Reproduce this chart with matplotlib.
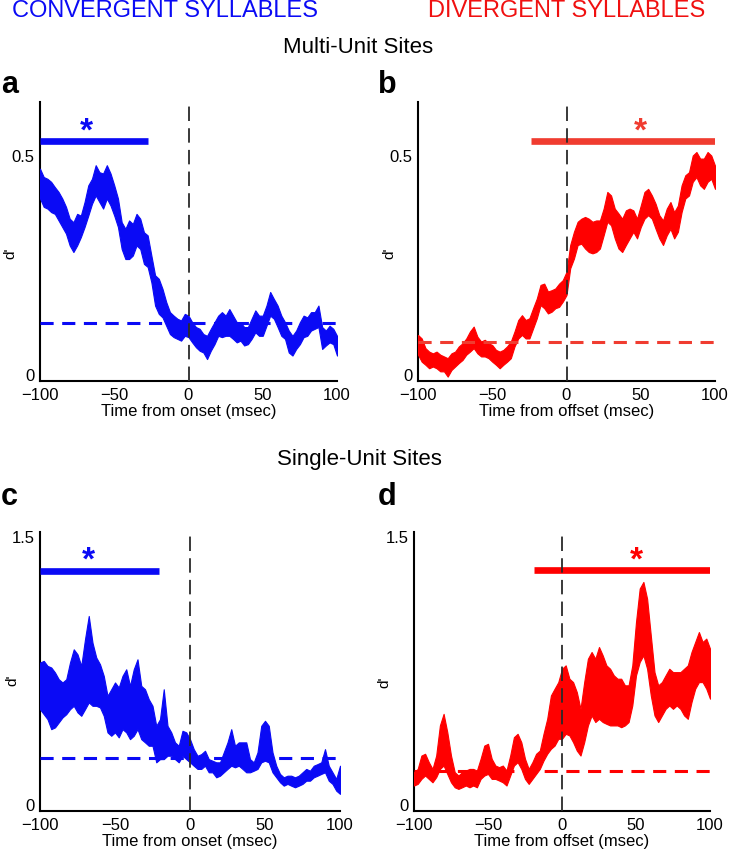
import numpy as np
import matplotlib
matplotlib.use("Agg")
import matplotlib.pyplot as plt

plt.rcParams['font.family'] = ['Liberation Sans', 'DejaVu Sans']

# ---------------- data ----------------
t = np.arange(-100, 100.01, 2.5)   # msec, sampling grid (81 points)

a_upper = [0.468, 0.449, 0.445, 0.438, 0.426, 0.415, 0.400, 0.381, 0.354, 0.346,
           0.365, 0.361, 0.392, 0.430, 0.445, 0.476, 0.460, 0.457, 0.476, 0.457,
           0.430, 0.400, 0.346, 0.331, 0.350, 0.342, 0.365, 0.354, 0.323, 0.316,
           0.270, 0.225, 0.217, 0.194, 0.164, 0.141, 0.133, 0.126, 0.122, 0.137,
           0.133, 0.118, 0.107, 0.103, 0.091, 0.087, 0.103, 0.118, 0.133, 0.141,
           0.133, 0.148, 0.133, 0.118, 0.118, 0.107, 0.107, 0.126, 0.145, 0.133,
           0.133, 0.156, 0.187, 0.171, 0.156, 0.133, 0.118, 0.099, 0.087, 0.099,
           0.118, 0.133, 0.129, 0.141, 0.141, 0.156, 0.107, 0.099, 0.110, 0.103,
           0.087]
a_lower = [0.400, 0.381, 0.377, 0.369, 0.365, 0.350, 0.335, 0.320, 0.293, 0.278,
           0.293, 0.312, 0.335, 0.361, 0.388, 0.407, 0.392, 0.377, 0.400, 0.384,
           0.361, 0.335, 0.285, 0.262, 0.262, 0.270, 0.293, 0.285, 0.251, 0.244,
           0.209, 0.156, 0.137, 0.129, 0.110, 0.091, 0.084, 0.080, 0.076, 0.087,
           0.084, 0.072, 0.061, 0.053, 0.049, 0.034, 0.053, 0.068, 0.087, 0.084,
           0.087, 0.087, 0.080, 0.072, 0.076, 0.065, 0.068, 0.080, 0.095, 0.087,
           0.087, 0.110, 0.133, 0.126, 0.107, 0.087, 0.080, 0.049, 0.042, 0.057,
           0.068, 0.084, 0.087, 0.099, 0.103, 0.107, 0.057, 0.065, 0.072, 0.068,
           0.042]

b_upper = [0.089, 0.081, 0.059, 0.051, 0.047, 0.051, 0.044, 0.040, 0.036, 0.047,
           0.051, 0.063, 0.070, 0.081, 0.097, 0.108, 0.085, 0.074, 0.078, 0.070,
           0.066, 0.055, 0.051, 0.055, 0.063, 0.074, 0.097, 0.123, 0.134, 0.123,
           0.127, 0.150, 0.172, 0.203, 0.206, 0.188, 0.191, 0.195, 0.206, 0.214,
           0.233, 0.294, 0.324, 0.347, 0.354, 0.358, 0.354, 0.347, 0.350, 0.350,
           0.377, 0.415, 0.407, 0.377, 0.366, 0.354, 0.373, 0.377, 0.373, 0.354,
           0.384, 0.415, 0.422, 0.407, 0.388, 0.362, 0.350, 0.377, 0.392, 0.369,
           0.384, 0.430, 0.453, 0.460, 0.498, 0.506, 0.491, 0.491, 0.506, 0.498,
           0.475]
b_lower = [0.044, 0.028, 0.021, 0.013, 0.017, 0.013, 0.006, 0.006, -0.006, 0.009,
           0.017, 0.025, 0.032, 0.044, 0.051, 0.059, 0.047, 0.040, 0.040, 0.036,
           0.028, 0.021, 0.013, 0.021, 0.028, 0.036, 0.063, 0.081, 0.089, 0.081,
           0.081, 0.104, 0.127, 0.157, 0.150, 0.138, 0.142, 0.150, 0.153, 0.165,
           0.180, 0.241, 0.263, 0.294, 0.297, 0.286, 0.278, 0.275, 0.278, 0.286,
           0.316, 0.347, 0.339, 0.309, 0.286, 0.278, 0.294, 0.309, 0.324, 0.309,
           0.335, 0.354, 0.362, 0.354, 0.331, 0.309, 0.294, 0.316, 0.331, 0.309,
           0.324, 0.369, 0.400, 0.407, 0.438, 0.449, 0.430, 0.422, 0.438, 0.445,
           0.422]

c_upper = [0.793, 0.802, 0.774, 0.765, 0.737, 0.699, 0.681, 0.699, 0.793, 0.867,
           0.839, 0.774, 0.923, 1.054, 0.904, 0.821, 0.783, 0.718, 0.606, 0.643,
           0.681, 0.653, 0.718, 0.755, 0.662, 0.755, 0.811, 0.662, 0.643, 0.587,
           0.550, 0.438, 0.475, 0.643, 0.438, 0.401, 0.345, 0.326, 0.410, 0.401,
           0.363, 0.307, 0.270, 0.279, 0.298, 0.251, 0.242, 0.233, 0.233, 0.289,
           0.345, 0.419, 0.326, 0.345, 0.345, 0.345, 0.251, 0.233, 0.289, 0.438,
           0.466, 0.438, 0.289, 0.214, 0.168, 0.149, 0.158, 0.158, 0.149, 0.158,
           0.177, 0.196, 0.186, 0.214, 0.223, 0.233, 0.307, 0.214, 0.177, 0.140,
           0.214]
c_lower = [0.531, 0.503, 0.475, 0.419, 0.429, 0.457, 0.485, 0.503, 0.531, 0.550,
           0.513, 0.494, 0.531, 0.569, 0.550, 0.550, 0.541, 0.494, 0.401, 0.382,
           0.401, 0.373, 0.419, 0.401, 0.363, 0.382, 0.419, 0.363, 0.345, 0.326,
           0.326, 0.233, 0.251, 0.251, 0.270, 0.270, 0.251, 0.233, 0.270, 0.251,
           0.233, 0.214, 0.196, 0.196, 0.214, 0.177, 0.177, 0.149, 0.158, 0.177,
           0.196, 0.214, 0.205, 0.214, 0.196, 0.177, 0.177, 0.186, 0.196, 0.233,
           0.242, 0.233, 0.177, 0.149, 0.121, 0.102, 0.112, 0.102, 0.093, 0.102,
           0.112, 0.130, 0.130, 0.149, 0.158, 0.168, 0.177, 0.130, 0.112, 0.074,
           0.056]

d_upper = [0.178, 0.196, 0.271, 0.281, 0.234, 0.196, 0.271, 0.440, 0.505, 0.402,
           0.271, 0.178, 0.159, 0.178, 0.187, 0.196, 0.196, 0.187, 0.253, 0.327,
           0.337, 0.253, 0.215, 0.206, 0.215, 0.187, 0.271, 0.374, 0.393, 0.346,
           0.253, 0.196, 0.234, 0.281, 0.299, 0.393, 0.477, 0.608, 0.646, 0.683,
           0.758, 0.777, 0.702, 0.683, 0.627, 0.533, 0.683, 0.814, 0.852, 0.814,
           0.880, 0.833, 0.777, 0.758, 0.721, 0.702, 0.702, 0.665, 0.665, 0.777,
           1.020, 1.208, 1.245, 1.151, 0.945, 0.739, 0.665, 0.683, 0.721, 0.758,
           0.739, 0.739, 0.739, 0.758, 0.777, 0.852, 0.908, 0.964, 0.908, 0.927,
           0.871]
d_lower = [0.103, 0.112, 0.140, 0.159, 0.140, 0.121, 0.150, 0.196, 0.215, 0.168,
           0.121, 0.093, 0.084, 0.093, 0.103, 0.093, 0.103, 0.093, 0.140, 0.159,
           0.168, 0.140, 0.140, 0.131, 0.121, 0.103, 0.159, 0.215, 0.234, 0.196,
           0.140, 0.112, 0.140, 0.168, 0.196, 0.243, 0.281, 0.309, 0.327, 0.365,
           0.365, 0.393, 0.384, 0.346, 0.299, 0.271, 0.346, 0.440, 0.496, 0.459,
           0.477, 0.459, 0.449, 0.440, 0.440, 0.440, 0.430, 0.440, 0.459, 0.552,
           0.721, 0.796, 0.833, 0.758, 0.608, 0.496, 0.459, 0.496, 0.533, 0.552,
           0.533, 0.552, 0.533, 0.496, 0.477, 0.571, 0.646, 0.683, 0.683, 0.646,
           0.590]

baselines = [0.117, 0.072, 0.257, 0.185]          # shuffled-baseline d' (dashed)
sig_start = [-100, -24, -100, -19]                  # significance bar (msec)
sig_end = [-27, 100, -21, 100]
sig_y = [0.53, 0.53, 1.305, 1.31]
star_x = [-69, 50, -68, 50]
star_y = [0.553, 0.553, 1.37, 1.37]

panel_letters = ['a', 'b', 'c', 'd']
xlabels = ['Time from onset (msec)', 'Time from offset (msec)',
           'Time from onset (msec)', 'Time from offset (msec)']
yticks_top = [0.5, 0.5, 1.5, 1.5]
ytick_labels_top = ['0.5', '0.5', '1.5', '1.5']
xtick_vals = [-100, -50, 0, 50, 100]

BLUE = '#0a0af5'
RED = '#ff0000'
RED_LIGHT = '#f03c30'
trace_colors = [BLUE, RED, BLUE, RED]
mark_colors = [BLUE, RED_LIGHT, BLUE, RED]
uppers = [a_upper, b_upper, c_upper, d_upper]
lowers = [a_lower, b_lower, c_lower, d_lower]

# ---------------- figure ----------------
W, H = 730, 853
fig = plt.figure(figsize=(W / 100, H / 100), dpi=100)

# axes boxes in pixels: left, right, top, bottom
boxes = [(40, 337, 103, 382), (418, 715, 103, 382),
         (40, 340, 533, 812), (414, 710, 533, 812)]
ylims = [(-0.016, 0.62), (-0.016, 0.62), (-0.04, 1.525), (-0.04, 1.525)]

for i in range(4):
    l, r, tp, bt = boxes[i]
    ax = fig.add_axes([l / W, 1 - bt / H, (r - l) / W, (bt - tp) / H])
    ax.fill_between(t, lowers[i], uppers[i], color=trace_colors[i],
                    edgecolor=trace_colors[i], lw=0.8, zorder=3)
    ax.axhline(baselines[i], color=mark_colors[i], lw=2.2,
               dashes=(4.3, 2.8), zorder=4)
    ax.axvline(0, color='#2a2a2a', lw=1.3, dashes=(8, 4), zorder=5)
    ax.plot([sig_start[i], sig_end[i]], [sig_y[i], sig_y[i]],
            color=mark_colors[i], lw=4.8, solid_capstyle='butt', zorder=4)
    ax.text(star_x[i], star_y[i], '*', color=mark_colors[i], fontsize=24,
            fontweight='bold', ha='center', va='center')
    ax.set_xlim(-100, 100)
    ax.set_ylim(*ylims[i])
    ax.set_xticks(xtick_vals)
    ax.set_yticks([0, yticks_top[i]])
    ax.set_yticklabels(['0', ytick_labels_top[i]])
    ax.tick_params(length=0, labelsize=12, pad=4)
    for s in ['top', 'right']:
        ax.spines[s].set_visible(False)
    for s in ['left', 'bottom']:
        ax.spines[s].set_linewidth(1.5)
    ax.set_xlabel(xlabels[i], fontsize=12, labelpad=1)

# y labels d'
for (x, y) in [(10, 253), (389, 253), (12, 680), (384, 682)]:
    fig.text(x / W, 1 - y / H, "d'", rotation=90, fontsize=11,
             ha='center', va='center')

# panel letters
for letter, (x, y) in zip(panel_letters, [(1, 93), (378, 93), (1, 505), (378, 505)]):
    fig.text(x / W, 1 - y / H, letter, fontsize=22, fontweight='bold',
             ha='left', va='baseline')

# headers
fig.text(12 / W, 1 - 17 / H, 'CONVERGENT SYLLABLES', color=BLUE, fontsize=17,
         ha='left', va='baseline')
fig.text(428 / W, 1 - 17 / H, 'DIVERGENT SYLLABLES', color='#f01010', fontsize=17,
         ha='left', va='baseline')
fig.text(358 / W, 1 - 53 / H, 'Multi-Unit Sites', fontsize=16,
         ha='center', va='baseline')
fig.text(359 / W, 1 - 465 / H, 'Single-Unit Sites', fontsize=16,
         ha='center', va='baseline')

fig.savefig('out.png', dpi=100)
